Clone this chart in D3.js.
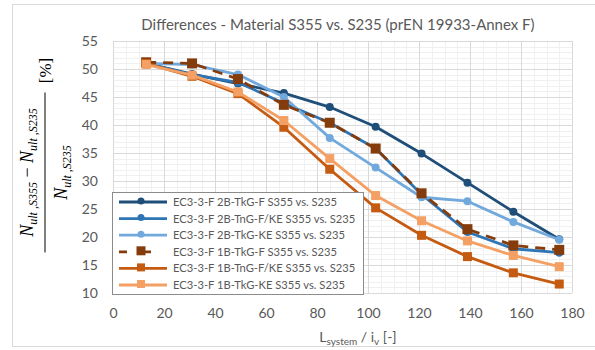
<!DOCTYPE html>
<html>
<head>
<meta charset="utf-8">
<script src="https://cdn.jsdelivr.net/npm/d3@7"></script>
<style>
  body { margin: 0; background: #fff; }
  text { font-family: Lato, "Open Sans", sans-serif; fill: #595959; }
</style>
</head>
<body>
<div id="chart"></div>
<script>
// x positions (slenderness) shared by all series
const xValues = [13, 31, 49, 67, 85, 103, 121, 139, 157, 175];

const s2bTkgF   = [51.0, 49.1, 47.4, 45.7, 43.2, 39.7, 34.9, 29.7, 24.5, 19.6];
const s2bTngFKe = [51.0, 49.0, 47.6, 43.9, 40.4, 35.8, 27.6, 20.9, 17.9, 17.2];
const s2bTkgKe  = [51.0, 50.8, 49.0, 45.0, 37.7, 32.4, 27.1, 26.4, 22.7, 19.5];
const s1bTkgF   = [51.2, 51.0, 48.2, 43.6, 40.4, 35.8, 27.8, 21.4, 18.5, 17.7];
const s1bTngFKe = [51.0, 48.7, 45.6, 39.6, 32.1, 25.2, 20.3, 16.5, 13.6, 11.6];
const s1bTkgKe  = [50.8, 48.9, 45.9, 40.8, 34.0, 27.4, 22.9, 19.3, 16.7, 14.7];

const seriesNames = [
    'EC3-3-F 2B-TkG-F S355 vs. S235',
    'EC3-3-F 2B-TnG-F/KE S355 vs. S235',
    'EC3-3-F 2B-TkG-KE S355 vs. S235',
    'EC3-3-F 1B-TkG-F S355 vs. S235',
    'EC3-3-F 1B-TnG-F/KE S355 vs. S235',
    'EC3-3-F 1B-TkG-KE S355 vs. S235'
];
const seriesValues = [s2bTkgF, s2bTngFKe, s2bTkgKe, s1bTkgF, s1bTngFKe, s1bTkgKe];
const seriesColors = ['#1f4e79', '#2e75b6', '#72a9dd', '#843c0c', '#c55a11', '#f4a064'];
const seriesMarkers = ['circle', 'circle', 'circle', 'square', 'square', 'square'];
const seriesDashed = [false, false, false, true, false, false];

const xTicks = [0, 20, 40, 60, 80, 100, 120, 140, 160, 180];
const yTicks = [10, 15, 20, 25, 30, 35, 40, 45, 50, 55];

const svg = d3.select('#chart')
    .append('svg')
    .attr('width', 595)
    .attr('height', 350);

// chart border
svg.append('rect')
    .attr('x', 12.5).attr('y', 4.5)
    .attr('width', 600).attr('height', 342)
    .attr('fill', '#fff')
    .attr('stroke', '#d9d9d9');

const margin = { top: 41, right: 23, bottom: 57, left: 113 };
const width = 595 - margin.left - margin.right;
const height = 350 - margin.top - margin.bottom;

const g = svg.append('g')
    .attr('transform', 'translate(' + margin.left + ',' + margin.top + ')');

const x = d3.scaleLinear().domain([0, 180]).range([0, width]);
const y = d3.scaleLinear().domain([10, 55]).range([height, 0]);

// minor grid
g.append('g').selectAll('line')
    .data(d3.range(0, 181, 5).filter(v => v % 20 !== 0))
    .enter().append('line')
    .attr('x1', d => Math.round(x(d)) + 0.5).attr('x2', d => Math.round(x(d)) + 0.5)
    .attr('y1', 0).attr('y2', height)
    .attr('stroke', '#f0f0f0');
g.append('g').selectAll('line')
    .data(d3.range(10, 56, 1).filter(v => v % 5 !== 0))
    .enter().append('line')
    .attr('y1', d => Math.round(y(d)) + 0.5).attr('y2', d => Math.round(y(d)) + 0.5)
    .attr('x1', 0).attr('x2', width)
    .attr('stroke', '#f0f0f0');

// major grid
g.append('g').selectAll('line')
    .data(xTicks)
    .enter().append('line')
    .attr('x1', d => Math.round(x(d)) + 0.5).attr('x2', d => Math.round(x(d)) + 0.5)
    .attr('y1', 0).attr('y2', height)
    .attr('stroke', '#d9d9d9');
g.append('g').selectAll('line')
    .data(yTicks)
    .enter().append('line')
    .attr('y1', d => Math.round(y(d)) + 0.5).attr('y2', d => Math.round(y(d)) + 0.5)
    .attr('x1', 0).attr('x2', width)
    .attr('stroke', '#d9d9d9');

// axes (labels only)
const xAxis = g.append('g')
    .attr('transform', 'translate(0,' + height + ')')
    .call(d3.axisBottom(x).tickValues(xTicks).tickSize(0).tickPadding(15));
const yAxis = g.append('g')
    .call(d3.axisLeft(y).tickValues(yTicks).tickSize(0).tickPadding(15));
[xAxis, yAxis].forEach(a => {
    a.select('.domain').remove();
    a.selectAll('text')
        .style('font-family', 'Lato, sans-serif')
        .style('font-size', '14px')
        .attr('fill', '#595959');
});

// series
const line = d3.line()
    .x((d, i) => x(xValues[i]))
    .y(d => y(d));

seriesValues.forEach((vals, k) => {
    const sg = g.append('g');
    sg.append('path')
        .datum(vals)
        .attr('d', line)
        .attr('fill', 'none')
        .attr('stroke', seriesColors[k])
        .attr('stroke-width', 2.8)
        .attr('stroke-linejoin', 'round')
        .attr('stroke-dasharray', seriesDashed[k] ? '10,7' : null);
    if (seriesMarkers[k] === 'circle') {
        sg.selectAll('circle')
            .data(vals)
            .enter().append('circle')
            .attr('cx', (d, i) => x(xValues[i]))
            .attr('cy', d => y(d))
            .attr('r', 4)
            .attr('fill', seriesColors[k]);
    } else {
        const s = k === 3 ? 10 : 9;
        sg.selectAll('rect')
            .data(vals)
            .enter().append('rect')
            .attr('x', (d, i) => x(xValues[i]) - s / 2)
            .attr('y', d => y(d) - s / 2)
            .attr('width', s).attr('height', s)
            .attr('fill', seriesColors[k]);
    }
});

// title
svg.append('text')
    .attr('x', 338)
    .attr('y', 30)
    .attr('text-anchor', 'middle')
    .style('font-size', '15px')
    .text('Differences - Material S355 vs. S235 (prEN 19933-Annex F)');

// x axis title
const xt = svg.append('text')
    .attr('x', 358)
    .attr('y', 342)
    .attr('text-anchor', 'middle')
    .style('font-size', '14px');
xt.append('tspan').text('L');
xt.append('tspan').attr('dy', 3).style('font-size', '10px').text('system');
xt.append('tspan').attr('dy', -3).text(' / i');
xt.append('tspan').attr('dy', 3).style('font-size', '10px').text('v');
xt.append('tspan').attr('dy', -3).text(' [-]');

// y axis title (fraction)
const yt = svg.append('g')
    .attr('transform', 'translate(45,172.5) rotate(-90)');
yt.append('line')
    .attr('x1', -80).attr('x2', 80)
    .attr('y1', 0).attr('y2', 0)
    .attr('stroke', '#000').attr('stroke-width', 1);

function addN(sel, sub) {
    sel.append('tspan').style('font-style', 'italic').style('font-size', '18px').text('N');
    sel.append('tspan').attr('dy', 4).style('font-style', 'italic').style('font-size', '12px').text(sub);
}
const num = yt.append('text')
    .attr('x', 0).attr('y', -12)
    .attr('text-anchor', 'middle')
    .style('font-family', '"Liberation Serif", serif')
    .attr('fill', '#000');
addN(num, 'ult ,S355');
num.append('tspan').attr('dy', -4).style('font-size', '18px').text(' − ');
addN(num, 'ult ,S235');
num.selectAll('tspan').style('fill', '#000');

const den = yt.append('text')
    .attr('x', 0).attr('y', 22)
    .attr('text-anchor', 'middle')
    .style('font-family', '"Liberation Serif", serif');
addN(den, 'ult ,S235');
den.selectAll('tspan').style('fill', '#000');

yt.append('text')
    .attr('x', 102).attr('y', 6)
    .attr('text-anchor', 'middle')
    .style('font-family', '"Liberation Serif", serif')
    .style('font-size', '17px')
    .style('fill', '#000')
    .text('[%]');

// legend
const lg = svg.append('g').attr('transform', 'translate(112,192)');
lg.append('rect')
    .attr('x', 0.5).attr('y', 0.5)
    .attr('width', 251).attr('height', 102)
    .attr('fill', '#fff')
    .attr('stroke', '#8c8c8c');
seriesNames.forEach((name, k) => {
    const ly = 10 + k * 16.6;
    const row = lg.append('g').attr('transform', 'translate(0,' + ly + ')');
    row.append('line')
        .attr('x1', 7).attr('x2', 55)
        .attr('y1', 0).attr('y2', 0)
        .attr('stroke', seriesColors[k])
        .attr('stroke-width', 2.8)
        .attr('stroke-dasharray', seriesDashed[k] ? '8,16' : null);
    if (seriesMarkers[k] === 'circle') {
        row.append('circle').attr('cx', 29).attr('cy', -1).attr('r', 3.5).attr('fill', seriesColors[k]);
    } else {
        const s = k === 3 ? 9 : 8;
        row.append('rect').attr('x', 29 - s / 2).attr('y', -s / 2 - 1)
            .attr('width', s).attr('height', s).attr('fill', seriesColors[k]);
    }
    row.append('text')
        .attr('x', 61).attr('y', 4)
        .style('font-size', '11.2px')
        .text(name);
});
</script>
</body>
</html>
